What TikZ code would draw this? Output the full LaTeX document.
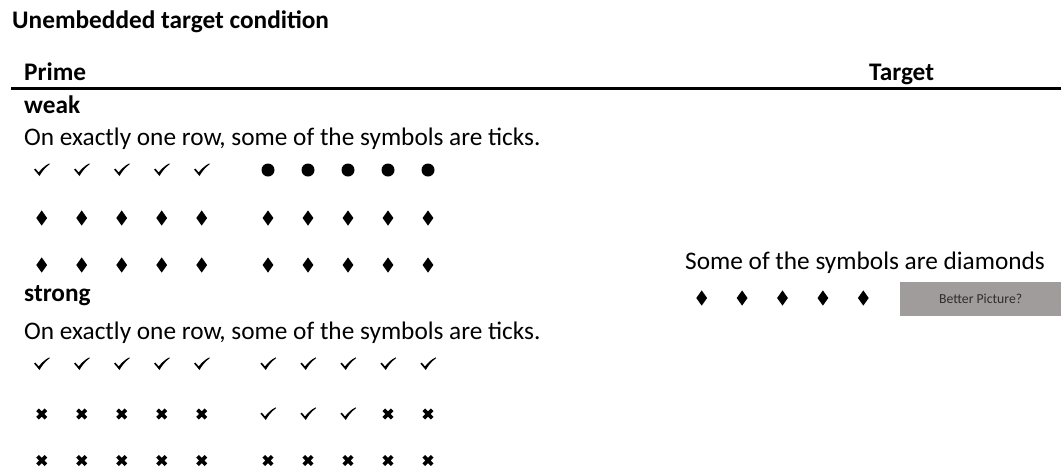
\documentclass[tikz,border=0pt]{standalone}
\usepackage{fontspec}
\setmainfont{Carlito}
\definecolor{btngray}{RGB}{160,156,155}
\definecolor{btntext}{RGB}{45,45,45}
\tikzset{
  txt/.style={anchor=base west, inner sep=0pt, font=\fontsize{25.3}{30}\selectfont},
  btxt/.style={txt, font=\fontsize{25.3}{30}\selectfont\bfseries},
  tickmark/.pic={\fill (-7.6,0.4) -- (-6.3,1.4) -- (-3.0,-2.4) .. controls (0,1.5) and (3.5,4.6) .. (7.6,6.6) -- (8.0,5.8) .. controls (3.2,2.4) and (-0.4,-2.6) .. (-2.2,-6.0) -- cycle;},
  dotmark/.pic={\fill (0,0) circle (6.5);},
  diammark/.pic={\fill (0,7.6) -- (5.4,0) -- (0,-7.6) -- (-5.4,0) -- cycle;},
  crossmark/.pic={\draw[line width=3.8pt] (-4.2,-4.2) -- (4.2,4.2) (-4.2,4.2) -- (4.2,-4.2);},
}
\begin{document}
\begin{tikzpicture}[x=1pt,y=1pt]
\useasboundingbox (0,0) rectangle (1061,-475);
\node[btxt] (title) at (12,-28.5) {Unembedded target condition};
\node[btxt] (prime) at (24,-80) {Prime};
\node[btxt] (target) at (869,-80) {Target};
\draw[line width=2.6pt] (11,-88.7) -- (1061,-88.7);
\node[btxt] (weak) at (24,-113) {weak};
\node[txt] (weakq) at (24,-145) {On exactly one row, some of the symbols are ticks.};
\node[btxt] (strong) at (24,-301) {strong};
\node[txt] (strongq) at (24,-339) {On exactly one row, some of the symbols are ticks.};
\foreach \i in {0,...,4} {
  \pic at (41.7+40*\i,-170) {tickmark};
  \pic at (268+40*\i,-170) {dotmark};
  \pic at (41.7+40*\i,-218) {diammark};
  \pic at (268+40*\i,-218) {diammark};
  \pic at (41.7+40*\i,-265) {diammark};
  \pic at (268+40*\i,-265) {diammark};
  \pic at (41.7+40*\i,-364) {tickmark};
  \pic at (268+40*\i,-364) {tickmark};
  \pic at (41.7+40*\i,-414) {crossmark};
  \pic at (41.7+40*\i,-460.5) {crossmark};
  \pic at (268+40*\i,-460.5) {crossmark};
}
\foreach \i in {0,1,2} { \pic at (268+40*\i,-414) {tickmark}; }
\foreach \i in {3,4} { \pic at (268+40*\i,-414) {crossmark}; }
\node[txt] (targetq) at (685,-269) {Some of the symbols are diamonds};
\foreach \i in {0,...,4} { \pic at (701.7+40.4*\i,-298) {diammark}; }
\node[fill=btngray, minimum width=161pt, minimum height=34pt, inner sep=0pt, anchor=north west,
  text=btntext, font=\fontsize{13.7}{16}\selectfont] (btn) at (900,-282) {Better Picture?};
\end{tikzpicture}
\end{document}
